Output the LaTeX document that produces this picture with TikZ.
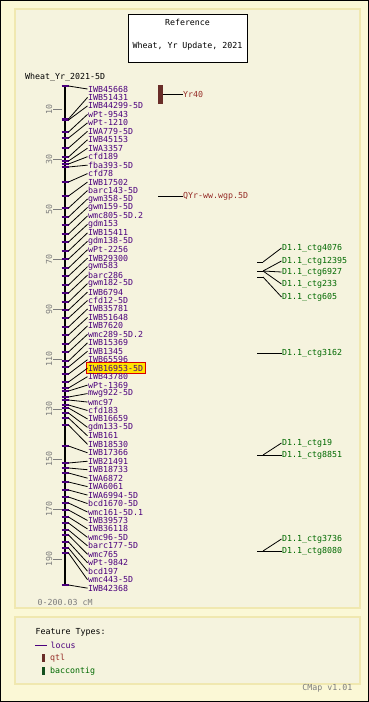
\documentclass[tikz,border=0pt]{standalone}
\usepackage{fontspec}
\newfontfamily\cmapfont{DejaVu Sans Mono}
\definecolor{outerbg}{RGB}{251,248,214}
\definecolor{panelbg}{RGB}{245,243,222}
\definecolor{panelborder}{RGB}{240,232,176}
\definecolor{locuscol}{RGB}{75,0,125}
\definecolor{qtlcol}{RGB}{150,45,40}
\definecolor{qtlbar}{RGB}{105,45,40}
\definecolor{ctgcol}{RGB}{0,105,0}
\definecolor{ctgbar}{RGB}{20,80,30}
\definecolor{graytxt}{RGB}{125,125,125}
\definecolor{hlyellow}{RGB}{255,228,0}
\tikzset{
  txt/.style={inner sep=0.5pt, font=\cmapfont\fontsize{8.3pt}{9pt}\selectfont},
  lbl/.style={txt, anchor=west, text=locuscol},
  qlbl/.style={txt, anchor=west, text=qtlcol},
  clbl/.style={txt, anchor=west, text=ctgcol},
  conn/.style={line width=0.8pt, black},
  lmark/.style={locuscol, line width=2.2pt},
  panel/.style={draw=panelborder, fill=panelbg, line width=1.5pt}
}
\begin{document}
\begin{tikzpicture}[x=1pt,y=-1pt]
\useasboundingbox (0,0) rectangle (369,702);
\fill[outerbg] (0,0) rectangle (369,702);
\draw[black, line width=1pt] (0.5,0.5) rectangle (368.5,701.5);
\draw[panel] (15,9) rectangle (360,608);
\draw[panel] (15,617) rectangle (360,684);

% title box
\node[draw, fill=white, line width=0.8pt, minimum width=119pt, minimum height=48pt, anchor=north west, inner sep=0pt] (titlebox) at (128,14) {};
\node[txt] (reftitle) at (187.5,22) {Reference};
\node[txt] (refsub) at (187.5,46) {Wheat, Yr Update, 2021};

\node[txt, anchor=west] (maptitle) at (24.5,77) {Wheat\_Yr\_2021-5D};

% axis
\coordinate (axtop) at (65,85);
\coordinate (axbot) at (65,585);
\draw[line width=2pt] (axtop) -- (axbot);

% scale
\foreach \c in {10,30,...,190} {
  \pgfmathsetmacro\yy{84+2.5*\c}
  \draw[graytxt, line width=0.8pt] (53,\yy) -- (62,\yy);
  \node[txt, rotate=90, text=graytxt] (sc\c) at (49,\yy) {\c};
}

% loci on axis
\foreach \ly [count=\i from 0] in {86,119,120,132,138,148,157,161,164,167,
  182,196,208,217,225,234,242,251,259,268,
  276,285,293,302,310,318,327,335,344,352,
  361,367,374,382,388,391,397,400,405,408,
  413,418,425,446,463,468,473,482,490,497,
  503,510,517,523,530,535,542,548,553,585} {
  \coordinate (P\i) at (68.5,\ly);
  \draw[lmark] (61.5,\ly) -- (68.5,\ly);
}

% highlight
\draw[fill=hlyellow, draw=red!85!black, line width=0.8pt] (86.5,362.8) rectangle (145.5,373.8);

% labels
\foreach \t [count=\i from 0] in {IWB45668,IWB51431,IWB44299-5D,wPt-9543,wPt-1210,IWA779-5D,IWB45153,IWA3357,cfd189,fba393-5D,
  cfd78,IWB17502,barc143-5D,gwm358-5D,gwm159-5D,wmc805-5D.2,gdm153,IWB15411,gdm138-5D,wPt-2256,
  IWB29300,gwm583,barc286,gwm182-5D,IWB6794,cfd12-5D,IWB35781,IWB51648,IWB7620,wmc289-5D.2,
  IWB15369,IWB1345,IWB65596,IWB16953-5D,IWB43780,wPt-1369,mwg922-5D,wmc97,cfd183,IWB16659,
  gdm133-5D,IWB161,IWB18530,IWB17366,IWB21491,IWB18733,IWA6872,IWA6061,IWA6994-5D,bcd1670-5D,
  wmc161-5D.1,IWB39573,IWB36118,wmc96-5D,barc177-5D,wmc765,wPt-9842,bcd197,wmc443-5D,IWB42368} {
  \pgfmathsetmacro\ly{89+8.46*\i}
  \node[lbl] (L\i) at (87.5,\ly) {\t};
}
\foreach \i in {0,...,59} \draw[conn] (P\i) -- (L\i.west);

% QTLs
\fill[qtlbar] (158,85) rectangle (162.5,104);
\coordinate (q1) at (162.5,94);
\node[qlbl] (yr40) at (182.5,94) {Yr40};
\draw[conn] (q1) -- (yr40.west);
\coordinate (q2) at (158,196);
\node[qlbl] (qyr) at (182.5,196) {QYr-ww.wgp.5D};
\draw[conn] (q2) -- (qyr.west);

% contigs
\foreach \n/\yy in {A/262,B/271,C/277,D/353,E/455,F/551} {
  \coordinate (s\n) at (257,\yy);
  \coordinate (c\n) at (263,\yy);
  \draw[conn] (s\n) -- (c\n);
}
\foreach \n/\lab/\yy/\src in {k1/D1.1\_ctg4076/248/A, k2/D1.1\_ctg12395/261/B, k3/D1.1\_ctg6927/272/B,
  k4/D1.1\_ctg233/284/B, k5/D1.1\_ctg605/297/C, k6/D1.1\_ctg3162/353/D, k7/D1.1\_ctg19/443/E,
  k8/D1.1\_ctg8851/455/E, k9/D1.1\_ctg3736/539/F, k10/D1.1\_ctg8080/551/F} {
  \node[clbl] (\n) at (281.5,\yy) {\lab};
  \draw[conn] (c\src) -- (\n.west);
}

\node[txt, anchor=west, text=graytxt] (range) at (37,602) {0-200.03 cM};

% legend
\node[txt, anchor=west] (ftypes) at (35,632) {Feature Types:};
\coordinate (lg1) at (35,645);
\coordinate (lg2) at (47,645);
\draw[locuscol, line width=1pt] (lg1) -- (lg2);
\node[lbl] (lglocus) at (50,645) {locus};
\fill[qtlbar] (42,654) rectangle (45,662);
\node[qlbl] (lgqtl) at (49.5,658) {qtl};
\fill[ctgbar] (42,667) rectangle (45,675);
\node[clbl] (lgctg) at (49.5,671) {baccontig};

\node[txt, anchor=east, text=graytxt] (cmapver) at (353,688) {CMap v1.01};
\end{tikzpicture}
\end{document}
